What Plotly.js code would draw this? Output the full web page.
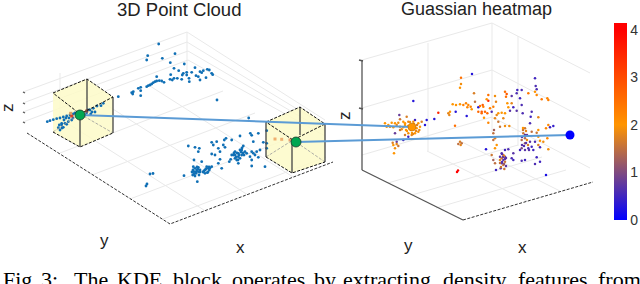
<!DOCTYPE html>
<html>
<head>
<meta charset="utf-8">
<script src="https://cdn.plot.ly/plotly-3.0.1.min.js"></script>
<style>html,body{margin:0;padding:0;background:#fff;overflow:hidden}#c{width:640px;height:284px}</style>
</head>
<body>
<div id="c"></div>
<script>
// ---- text ----
const panelTitles = ["3D Point Cloud", "Guassian heatmap"];
const captionWords = ["Fig.", "3:", "The", "KDE", "block", "operates", "by", "extracting", "density", "features", "from"];
const captionXs = [2, 40, 73, 116, 172, 231, 313, 342, 442, 517, 597];
const colorTicks = [0, 1, 2, 3, 4];

// ---- left panel point cloud ----
const cloudX = [158.7,147.7,146.7,162.3,175,170.3,184.3,174,178.7,195,156.7,170.7,183.3,186.7,191.7,200,203.3,207.3,211.7,196,198.3,200,206,189,189.3,186.7,182.3,177.3,181.7,174,172.3,170,138.3,140.7,140.7,131.7,132.7,133.3,140.7,217,146.7,148.3,150,151.7,153.3,155,156.7,159.3,161.7,164,201.7,209.3,212.7,
47.3,50,53.3,56.7,60,63.3,66.7,70,73.3,118.3,103.3,101,93.3,90,86.7,90.7,85,58.3,61.7,65,68.3,60,63.3,66.7,71.7,61.7,59.3,64,66,62,69,73,75,95,97,92,88,
248.7,250.3,251.7,258.3,266.7,240,226,224.3,231.7,211.7,213.3,216.7,223.3,225,188.3,195,199.3,198.3,218.3,220,215,211.7,220,218.3,221.7,229.3,230.7,243.3,253.3,263.3,266.7,266.7,260,256.7,253.3,250,258.3,251.7,251.7,265,245,241.7,241.7,238.3,235,233.3,235,236.7,238.3,231.7,238.3,240,246.7,251.7,255,
193.3,195,196.7,198.3,200,194,196,192.7,195,198.3,201.7,194,184,197.3,206.7,208.3,211.7,205,207.3,209.3,205,150,153,146,147,
196,198,193,197,200,194,199,192,206,209,204,208,210,203,237,239,241,236,234,240,243,238,242,235,244];
const cloudY = [44,55.7,60,58.3,53.7,62.7,64,68.3,70.7,67.7,76.7,74.7,73.3,72.3,72.3,71.7,70.7,69.3,73.3,75.7,76.7,80,77.7,78.3,81.7,75,75,78.3,79.3,78.3,80,79.3,88.3,87.3,90.7,92.7,94,91.7,95.7,100,86.7,85.7,85,84,82.7,81.7,81,80.7,81,82.3,72.7,70,74.7,
121.7,120.7,119.7,118.7,118,117,116,115,114,96.7,103.3,105.7,108.3,110,112.7,114,115,127.7,125,123.3,121.7,130,127.3,124.3,120,123.3,125,120,118,128,118,118,113,112,106,112,110,
118,133.3,135.3,133.3,130.7,136,138.3,140,140,142.3,145,141.7,145,147.3,146,147.3,148.3,151.7,148.3,151.7,155,154,159.3,163.3,168.3,161.7,159.3,146,141.7,142.3,143.3,148.3,150,151.7,153.3,156.7,157.3,160,166,166.7,151.7,150,155,153.3,151.7,155,158.3,160,163.3,155,156.7,158.3,153.3,151.7,155,
166.7,168.3,170,167.3,170,171.7,173.3,175,176,171.7,161.7,160,175.7,181.7,166.7,168.3,166.7,170,172.7,170,173.3,174,173.5,186,184,
172,169,170,167,172,174,175,172,169,167,171,172,168,172,153,155,152,157,153,150,153,160,148,155,155];
// small warm points seen inside the two cubes
const warmX = [71.7,70.7,86.7,275,281.7,290];
const warmY = [116,113.3,111,139,139.3,140];
const warmC = ["#d9432a","#d9a066","#c0503a","#f0b070","#f0b070","#e8a070"];

// ---- right panel heatmap points ----
const heatX = [472,413.3,434.3,426.7,466.7,478.3,455.7,486,425,399.3,395,396.7,403.3,408.3,415,
461,461,460,455,438.3,456,452.7,450,448.3,449.3,460,463.3,466,468.3,470.7,467.3,471.7,474,475,482.7,488.3,488.3,481.7,485,487.3,488.3,484,460,458.3,461.7,460.7,
385,388.3,391.7,395,398.3,386.7,390,393.3,396.7,400,403.3,401.7,405,406.7,400,408.3,413.3,418.3,420,416.7,418.3,415,411.7,408.3,406,405,400,403.3,419.3,421.7,393.3,396.7,395,394,398.3,392.7,457,458,
535,535.7,536.7,517.3,521.7,516.7,511.7,520,521.7,513.3,516.7,522.7,531.7,530.7,530,550,553.3,510,491.7,536.7,540,546,496,505,508.3,513.3,511.7,513.3,520,521.7,525,535,530,531.7,528.3,525,533.3,535,540,
486.7,495,496,505,506.7,506,511.7,507.3,508.3,528.3,535,536.7,541.7,547.3,548.3,490,493.3,480,483.3,478.3,481.7,498.3,501.7,505,495,496.7,503.3,498.3,500,505,509.3,538.3,548.3,546,538.3,
494,493.3,495,493.3,496.7,495,491.7,493.3,495,525,523.3,525,521.7,525,521.7,538.3,540,538.3,547.3,548.3,543.3,531.7,536.7,
501.7,503.3,505,501.7,503.3,505,501.7,503.3,500.7,504.3,500,
502,504,506,500,502,504,506,500,503,505,501,
523,525,527,522,526,528,524,526,522,523,527,529,
405,407,410,412,414,416,409,411,413,408,415,417];
const heatY = [74,101,119,120,116,107.3,111.7,149.3,125,115,133.3,141.7,140,136.7,120,
77.7,84,87.7,125.7,112.7,105,104.3,111.7,113.3,115,104.3,105,103.3,105,106.7,107.3,109.3,93.3,101.7,105,100.7,95,111.7,111.7,113.3,122.7,117.7,141.7,144,143.3,145,
123.3,125,122.7,123.3,122.7,126.7,126.7,127.3,125,126.7,127.3,129.3,123.3,116.7,119.3,121.7,121.7,123.3,126.7,128.3,131.7,133.3,135,133.3,130,135,130,121.7,130,121.7,145,144,148.3,153.3,146,142.7,172,170.5,
78.3,86,89.3,90,90,93.3,96,98.3,105,107.3,110.7,113.3,111.7,116.7,123.3,127.3,126,110.7,111.7,157.3,161.7,175,170,150,149.3,153.3,158.3,160,150,160.7,160,141.7,141.7,146.7,148.3,150,150,164,147.3,
99.3,96,101.7,91.7,94,96.7,103.3,103.3,107.3,93.3,91.7,95,99.3,98.3,100,108.3,106.7,106,106.7,111.7,113.3,113.3,112.7,113.3,118.3,115,118.3,121.7,126.7,126,126,117.3,125,128.3,130,
130,133.3,138.3,140,145,148.3,155,160,163.3,128.3,133.3,138.3,140,143.3,148.3,136.7,140.7,145,138.3,149.3,141.7,131.7,132.7,
153.3,155,156.7,158.3,160,161.7,163.3,165,168.3,169,156.7,
154,156,158,160,162,164,166,163,157,159,167,
130,135,140,137,143,145,146,131,145,128,135,150,
125,131,122,133,124,131,128,130,134,126,127,125];
const heatV = [0.3,0.3,0.3,0.3,0.3,0.3,0.3,0.3,0.3,0.8,0.8,0.8,0.5,0.5,0.5,
2.5,1.9,2,2.5,3.5,2,2,2,1.8,1.8,2,2.3,2.2,2.2,2.3,2.2,2,1.7,1.5,2.8,3.5,2.5,2.8,2.6,2.6,2.2,2,1.7,1.5,1.5,1.8,
2,2,2,2,1.9,2,1.9,2,1.8,2,2,1.9,2,1.7,1.6,1.8,1.9,2,2,2,1.9,2,1.8,1.9,2,1.7,1.6,2,1.8,1.7,2,1.8,1.9,2,1.6,1.7,4,4,
0.5,0.6,0.6,0.5,0.6,0.6,0.7,0.5,0.6,0.5,0.7,0.6,0.6,0.5,0.6,0.5,0.4,0.7,0.6,0.5,0.5,0.2,0.5,0.5,0.6,0.7,0.6,0.5,0.5,0.6,0.5,0.6,0.7,0.5,0.6,0.7,0.5,0.6,0.5,
2,1.9,1.8,2.5,2.8,2.5,1.8,2,2,2.4,2,2.2,2.4,2.2,2.3,2.3,2.3,2.4,2.3,2.6,2.6,2,2,2,1.8,1.8,1.8,1.6,1.6,1.9,1.9,1.8,2.2,2.2,2,
1.3,1.5,1.7,1.5,2,2,1.6,1.3,1.5,1.6,1.6,1.4,1.4,1.2,1,2,2,1.7,2.2,1.9,1.9,1.5,1.6,
0.7,1.6,0.7,1.6,0.7,1.6,0.7,1.6,0.7,1.6,0.7,
0.6,1.8,0.7,1.8,0.6,1.2,0.7,1.5,0.8,0.7,1.6,
1.6,0.7,1.9,0.6,0.7,1.7,0.6,1.8,0.7,2,0.8,0.7,
2,2,1.9,2,1.9,1.8,2,1.9,1.8,2,1.9,1.7];

// ---- grid, axes and cube outlines ----
const leftGridX = [23,187,null,23,187,null,23,188,null,23,188,null,187,325,null,187,325,null,188,325,null,188,325,null,187,187,null,60,60,null,64,207,null,105,248,null,150,293,null,92,255,null,60,223,null,130,293,null,163,326];
const leftGridY = [92,32,null,103,42,null,112,51,null,122,60,null,32,120,null,42,126,null,51,131,null,60,136,null,32,70,null,73,120,null,121,212,null,104,195,null,86,177,null,175,113,null,153,91,null,199,137,null,219,157];
const rightGridX = [492,362,null,492,362,null,492,362,null,492,590,null,492,590,null,492,590,null,492,492,null,428,428,null,518,518,null,427,527,null,460,560,null,388,518,null,412,542,null,436,566];
const rightGridY = [23,60,null,70,108,null,117,155,null,23,73,null,70,121,null,117,168,null,23,132,null,43,151,null,36,146,null,151,201,null,141,191,null,183,145,null,195,157,null,208,170];
const axisDashX = [27,170,333,null,463,593];
const axisDashY = [133,224,162,null,220,182];
const axisSolidX = [362,362,null,362,463,null,23,25,null,23,25,null,23,25,null,23,25,null,359,363,null,359,363];
const axisSolidY = [60,170,null,170,220,null,92,93,null,103,104,null,112,113,null,122,123,null,60,61,null,108,109];
const cubeFillX = [87,113,113,80,53,53,87,null,300,325,325,292,266,266,300];
const cubeFillY = [79,97,133,147,132,93,79,null,107,124,162,173,157,122,107];
const cubeDashX = [53,87,113,80,53,null,53,80,113,null,266,300,325,293,266,null,266,292,325];
const cubeDashY = [93,79,97,114,93,null,132,147,133,null,122,107,124,140,122,null,157,173,162];
const cubeInnerX = [80,113,null,53,80,null,293,325,null,266,293];
const cubeInnerY = [114,133,null,132,114,null,140,162,null,157,140];
const cubeEdgeX = [87,87,null,80,80,null,113,113,null,300,300,null,292,292,null,266,266,null,325,325];
const cubeEdgeY = [79,112,null,114,147,null,97,133,null,107,135,null,140,173,null,122,157,null,124,162];
const linkAX = [80, 412];
const linkAY = [115, 127];
const linkBX = [296, 570];
const linkBY = [142, 135];
const greenDotX = [80, 296];
const greenDotY = [115, 142];

const colorscale = [[0,"#0000ff"],[0.483,"#ff9500"],[0.966,"#ff0000"],[1,"#ff0000"]];
const line = (x,y,color,width,dash) => ({x,y,type:"scatter",mode:"lines",line:{color,width,dash:dash||"solid"},hoverinfo:"skip",connectgaps:false});

const traces = [
  line(leftGridX,leftGridY,"#e9e9e9",1),
  line(rightGridX,rightGridY,"#e9e9e9",1),
  line(axisDashX,axisDashY,"#333333",1,"3px,1.5px"),
  line(axisSolidX,axisSolidY,"#555555",1.3),
  {x:cubeFillX,y:cubeFillY,type:"scatter",mode:"lines",fill:"toself",fillcolor:"rgba(253,250,200,0.85)",line:{width:0},hoverinfo:"skip"},
  {x:cloudX,y:cloudY,type:"scatter",mode:"markers",marker:{size:2.8,color:"#0f6fb5"},hoverinfo:"skip"},
  {x:warmX,y:warmY,type:"scatter",mode:"markers",marker:{size:3,color:warmC,symbol:"square"},hoverinfo:"skip"},
  {x:heatX,y:heatY,type:"scatter",mode:"markers",marker:{size:2.5,color:heatV,cmin:0,cmax:4.14,colorscale,showscale:true,
    colorbar:{thickness:13,thicknessmode:"pixels",len:197,lenmode:"pixels",x:614/640,xanchor:"left",xpad:0,ypad:0,y:(284-23)/284,yanchor:"top",
      tickvals:colorTicks,ticks:"",outlinewidth:0,tickfont:{family:"Liberation Sans",size:14,color:"#333"}}},hoverinfo:"skip"},
  line(cubeInnerX,cubeInnerY,"#999999",0.8,"3px,1.5px"),
  line(cubeEdgeX,cubeEdgeY,"#444444",1.3),
  line(cubeDashX,cubeDashY,"#111111",1,"3px,1.5px"),
  line(linkAX,linkAY,"#5b9bd5",2),
  line(linkBX,linkBY,"#5b9bd5",2),
  {x:greenDotX,y:greenDotY,type:"scatter",mode:"markers",marker:{size:10,color:"#00a651",line:{color:"#1c3a2a",width:0.8}},hoverinfo:"skip"},
  {x:[412],y:[127],type:"scatter",mode:"markers",marker:{size:8,color:[2],cmin:0,cmax:4.14,colorscale,line:{color:"#b06a10",width:0.5}},hoverinfo:"skip"},
  {x:[570],y:[135],type:"scatter",mode:"markers",marker:{size:9,color:"#0000ff"},hoverinfo:"skip"}
];

const label = (text,x,y,size,extra) => Object.assign({text,x,y,xref:"x",yref:"y",showarrow:false,xanchor:"center",yanchor:"middle",
  font:{family:"Liberation Sans",size,color:"#222"}},extra||{});
const annotations = [
  label(panelTitles[0],179,9,18.5),
  label(panelTitles[1],476,9,18),
  label("z",7,108,17,{textangle:-90}),
  label("z",344,116,17,{textangle:-90}),
  label("y",104,240,17),
  label("x",240,247,17),
  label("y",408,245,17),
  label("x",522,247,17)
].concat(captionWords.map((w,i)=>({text:w,x:captionXs[i],y:279,xref:"x",yref:"y",showarrow:false,xanchor:"left",yanchor:"middle",xshift:-1,
  font:{family:"Liberation Serif",size:22,color:"#000"}})));

Plotly.newPlot("c",traces,{
  width:640,height:284,margin:{l:0,r:0,t:0,b:0,pad:0},showlegend:false,
  paper_bgcolor:"#fff",plot_bgcolor:"#fff",
  xaxis:{range:[0,640],visible:false,fixedrange:true},
  yaxis:{range:[284,0],visible:false,fixedrange:true},
  annotations
},{staticPlot:true,displayModeBar:false});
</script>
</body>
</html>
